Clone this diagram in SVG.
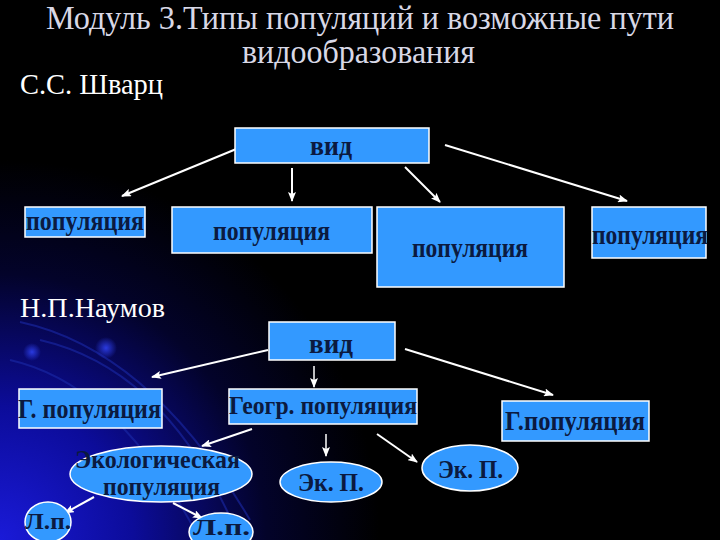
<svg xmlns="http://www.w3.org/2000/svg" width="720" height="540" viewBox="0 0 720 540">
  <defs>
    <radialGradient id="bg" cx="0" cy="540" r="380" gradientUnits="userSpaceOnUse">
      <stop offset="0" stop-color="#1a1ad8"/>
      <stop offset="0.35" stop-color="#0c0c9a"/>
      <stop offset="0.7" stop-color="#03032a"/>
      <stop offset="1" stop-color="#000000"/>
    </radialGradient>
    <radialGradient id="dot">
      <stop offset="0" stop-color="#2a3ae0"/>
      <stop offset="1" stop-color="#2a3ae0" stop-opacity="0"/>
    </radialGradient>
    <marker id="ah" viewBox="0 0 10 8" refX="9" refY="4" markerWidth="10" markerHeight="8" markerUnits="userSpaceOnUse" orient="auto">
      <path d="M0,0 L10,4 L0,8 L2,4 Z" fill="#ffffff"/>
    </marker>
    <style>
      .hdr{font-family:'Liberation Serif','DejaVu Serif',serif;fill:#d8d8e6}
      .auth{font-family:'Liberation Serif','DejaVu Serif',serif;fill:#ffffff}
      .box{fill:#3399ff;stroke:#ffffff;stroke-width:1.5}
      .lbl{font-family:'Liberation Serif','DejaVu Serif',serif;font-weight:bold;fill:#0b1a40}
      .con line{stroke:#ffffff;stroke-width:2;marker-end:url(#ah)}
      .arc{fill:none;stroke:#1b2aa8;stroke-width:2;opacity:0.6}
    </style>
  </defs>

  <rect x="0" y="0" width="720" height="540" fill="#000000"/>
  <rect x="0" y="0" width="720" height="540" fill="url(#bg)"/>
  <g id="decor">
    <path class="arc" d="M20 322 Q 150 350 250 520"/>
    <path class="arc" d="M40 340 Q 170 370 240 540"/>
    <path class="arc" d="M10 360 Q 120 385 200 540"/>
    <circle cx="32" cy="352" r="9" fill="url(#dot)"/>
    <circle cx="106" cy="348" r="11" fill="url(#dot)"/>
  </g>

  <g id="title">
    <text class="hdr" x="46" y="29" font-size="33" textLength="628" lengthAdjust="spacingAndGlyphs">Модуль 3.Типы популяций и возможные пути</text>
    <text class="hdr" x="242" y="63" font-size="33" textLength="233" lengthAdjust="spacingAndGlyphs">видообразования</text>
  </g>
  <text id="author1" class="auth" x="20" y="94" font-size="29" textLength="143" lengthAdjust="spacingAndGlyphs">С.С. Шварц</text>
  <text id="author2" class="auth" x="20" y="317" font-size="28" textLength="145" lengthAdjust="spacingAndGlyphs">Н.П.Наумов</text>

  <g class="con" id="connectors">
    <line x1="246" y1="145" x2="122" y2="196"/>
    <line x1="292" y1="168" x2="292" y2="201"/>
    <line x1="405" y1="167" x2="440" y2="202"/>
    <line x1="445" y1="145" x2="627" y2="201"/>
    <line x1="268" y1="350" x2="152" y2="377"/>
    <line x1="314" y1="366" x2="314" y2="387" style="stroke-width:1.5"/>
    <line x1="405" y1="349" x2="553" y2="395"/>
    <line x1="252" y1="429" x2="202" y2="446"/>
    <line x1="326" y1="434" x2="326" y2="456" style="stroke-width:1.5"/>
    <line x1="377" y1="434" x2="417" y2="462"/>
    <line x1="94" y1="497" x2="65" y2="513"/>
    <line x1="173" y1="503" x2="202" y2="518"/>
  </g>

  <g id="vid1">
    <rect class="box" x="235" y="128" width="194" height="35"/>
    <text class="lbl" x="310" y="155" font-size="27" textLength="42" lengthAdjust="spacingAndGlyphs">вид</text>
  </g>
  <g id="pop1">
    <rect class="box" x="25" y="207" width="120" height="30"/>
    <text class="lbl" x="26" y="230" font-size="27" textLength="118" lengthAdjust="spacingAndGlyphs">популяция</text>
  </g>
  <g id="pop2">
    <rect class="box" x="172" y="207" width="200" height="46"/>
    <text class="lbl" x="213" y="240" font-size="27" textLength="117" lengthAdjust="spacingAndGlyphs">популяция</text>
  </g>
  <g id="pop3">
    <rect class="box" x="377" y="207" width="187" height="80"/>
    <text class="lbl" x="412" y="257" font-size="27" textLength="116" lengthAdjust="spacingAndGlyphs">популяция</text>
  </g>
  <g id="pop4">
    <rect class="box" x="592" y="207" width="114" height="51"/>
    <text class="lbl" x="592" y="244" font-size="27" textLength="116" lengthAdjust="spacingAndGlyphs">популяция</text>
  </g>

  <g id="vid2">
    <rect class="box" x="269" y="322" width="126" height="38"/>
    <text class="lbl" x="309" y="353" font-size="27" textLength="44" lengthAdjust="spacingAndGlyphs">вид</text>
  </g>
  <g id="gpop1">
    <rect class="box" x="19" y="389" width="143" height="39"/>
    <text class="lbl" x="18" y="418" font-size="27" textLength="143" lengthAdjust="spacingAndGlyphs">Г. популяция</text>
  </g>
  <g id="geopop">
    <rect class="box" x="229" y="389" width="188" height="35"/>
    <text class="lbl" x="229" y="414" font-size="26" textLength="188" lengthAdjust="spacingAndGlyphs">Геогр. популяция</text>
  </g>
  <g id="gpop2">
    <rect class="box" x="502" y="401" width="147" height="40"/>
    <text class="lbl" x="505" y="430" font-size="27" textLength="140" lengthAdjust="spacingAndGlyphs">Г.популяция</text>
  </g>
  <g id="ecopop">
    <ellipse class="box" cx="161" cy="474" rx="91" ry="28"/>
    <text class="lbl" x="75" y="468" font-size="25" textLength="165" lengthAdjust="spacingAndGlyphs">Экологическая</text>
    <text class="lbl" x="103" y="495" font-size="25" textLength="117" lengthAdjust="spacingAndGlyphs">популяция</text>
  </g>
  <g id="ekp1">
    <ellipse class="box" cx="331" cy="482" rx="51" ry="20"/>
    <text class="lbl" x="298" y="491" font-size="25" textLength="66" lengthAdjust="spacingAndGlyphs">Эк. П.</text>
  </g>
  <g id="ekp2">
    <ellipse class="box" cx="470" cy="468" rx="48" ry="23"/>
    <text class="lbl" x="438" y="478" font-size="25" textLength="65" lengthAdjust="spacingAndGlyphs">Эк. П.</text>
  </g>
  <g id="lp1">
    <ellipse class="box" cx="48" cy="522" rx="23" ry="20"/>
    <text class="lbl" x="25" y="529" font-size="24" textLength="46" lengthAdjust="spacingAndGlyphs">Л.п.</text>
  </g>
  <g id="lp2">
    <ellipse class="box" cx="221" cy="532" rx="32" ry="19"/>
    <text class="lbl" x="193" y="535" font-size="23" textLength="57" lengthAdjust="spacingAndGlyphs">Л.п.</text>
  </g>
</svg>
